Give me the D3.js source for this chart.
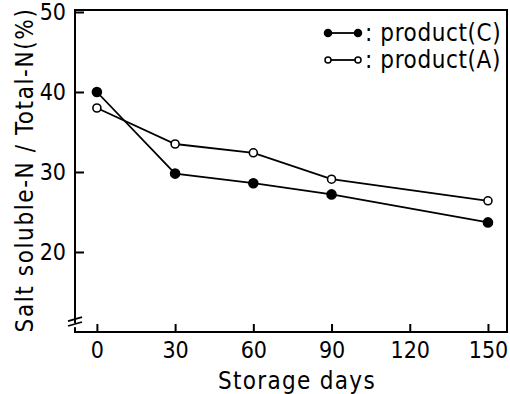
<!DOCTYPE html>
<html>
<head>
<meta charset="utf-8">
<script src="https://cdn.jsdelivr.net/npm/d3@7.9.0/dist/d3.min.js"></script>
<style>
  body { margin: 0; background: #fff; }
  svg text { font-family: "DejaVu Sans Condensed", "DejaVu Sans", sans-serif; fill: #000; }
</style>
</head>
<body>
<svg id="chart" width="510" height="394"></svg>
<script>
// storage days and values
const days = [0, 30, 60, 90, 150];
const productC = [40.0, 29.8, 28.6, 27.2, 23.7];
const productA = [38.0, 33.5, 32.4, 29.1, 26.4];
const xTicks = [0, 30, 60, 90, 120, 150];
const yTicks = [20, 30, 40, 50];

const svg = d3.select('#chart');

const plotLeft = 75, plotRight = 507, plotTop = 10, plotBottom = 332;

const x = d3.scaleLinear().domain([-8.4, 157.3]).range([plotLeft, plotRight]);
const y = d3.scaleLinear().domain([10, 50.25]).range([plotBottom, plotTop]);

// frame
svg.append('rect')
    .attr('x', plotLeft).attr('y', plotTop)
    .attr('width', plotRight - plotLeft).attr('height', plotBottom - plotTop)
    .attr('fill', 'none').attr('stroke', '#000').attr('stroke-width', 2);

// axes with inward ticks
const yAxis = d3.axisLeft(y).tickValues(yTicks).tickSize(-9).tickPadding(16);
const xAxis = d3.axisBottom(x).tickValues(xTicks).tickSize(-8).tickPadding(10);

const gy = svg.append('g').attr('transform', `translate(${plotLeft},0)`).call(yAxis);
const gx = svg.append('g').attr('transform', `translate(0,${plotBottom})`).call(xAxis);

[gy, gx].forEach(g => {
    g.select('.domain').remove();
    g.selectAll('.tick line').attr('stroke', '#000').attr('stroke-width', 2);
    g.selectAll('.tick text').attr('font-size', 23).style('font-family', '"DejaVu Sans Condensed", "DejaVu Sans", sans-serif');
});
gy.selectAll('.tick text').attr('dx', 7);

// axis break marks
const brk = svg.append('g');
brk.append('rect').attr('x', plotLeft - 3).attr('y', y(11.1)).attr('width', 6).attr('height', 4).attr('fill', '#fff');
[y(11.6), y(11.0)].forEach(yy => {
    brk.append('line')
        .attr('x1', plotLeft - 7).attr('y1', yy + 2)
        .attr('x2', plotLeft + 7).attr('y2', yy - 2)
        .attr('stroke', '#000').attr('stroke-width', 1.8);
});

// series
const line = d3.line().x(d => x(d[0])).y(d => y(d[1]));
const series = [
    { name: ': product(C)', values: productC, filled: true },
    { name: ': product(A)', values: productA, filled: false }
];

series.forEach(s => {
    const pts = days.map((d, i) => [d, s.values[i]]);
    svg.append('path')
        .attr('d', line(pts))
        .attr('fill', 'none').attr('stroke', '#000').attr('stroke-width', 1.8);
    svg.selectAll(null)
        .data(pts)
        .enter()
        .append('circle')
        .attr('cx', d => x(d[0]))
        .attr('cy', d => y(d[1]))
        .attr('r', s.filled ? 4.5 : 4)
        .attr('fill', s.filled ? '#000' : '#fff')
        .attr('stroke', '#000').attr('stroke-width', 1.6);
});

// legend
const legend = svg.append('g');
series.forEach((s, i) => {
    const ly = 33 + i * 27;
    legend.append('line').attr('x1', 328).attr('x2', 358).attr('y1', ly).attr('y2', ly)
        .attr('stroke', '#000').attr('stroke-width', 1.8);
    [328, 358].forEach(cx => {
        legend.append('circle').attr('cx', cx).attr('cy', ly).attr('r', s.filled ? 3.5 : 3)
            .attr('fill', s.filled ? '#000' : '#fff').attr('stroke', '#000').attr('stroke-width', 1.5);
    });
    legend.append('text').attr('x', 365).attr('y', ly + 8)
        .attr('font-size', 24).attr('letter-spacing', 0.6).text(s.name);
});

// axis titles
svg.append('text')
    .attr('x', 297).attr('y', 389)
    .attr('text-anchor', 'middle').attr('font-size', 24)
    .attr('letter-spacing', 1.3)
    .text('Storage days');

svg.append('text')
    .attr('transform', 'translate(33,170) rotate(-90)')
    .attr('text-anchor', 'middle').attr('font-size', 24)
    .attr('letter-spacing', 1.6)
    .text('Salt soluble-N / Total-N(%)');
</script>
</body>
</html>
